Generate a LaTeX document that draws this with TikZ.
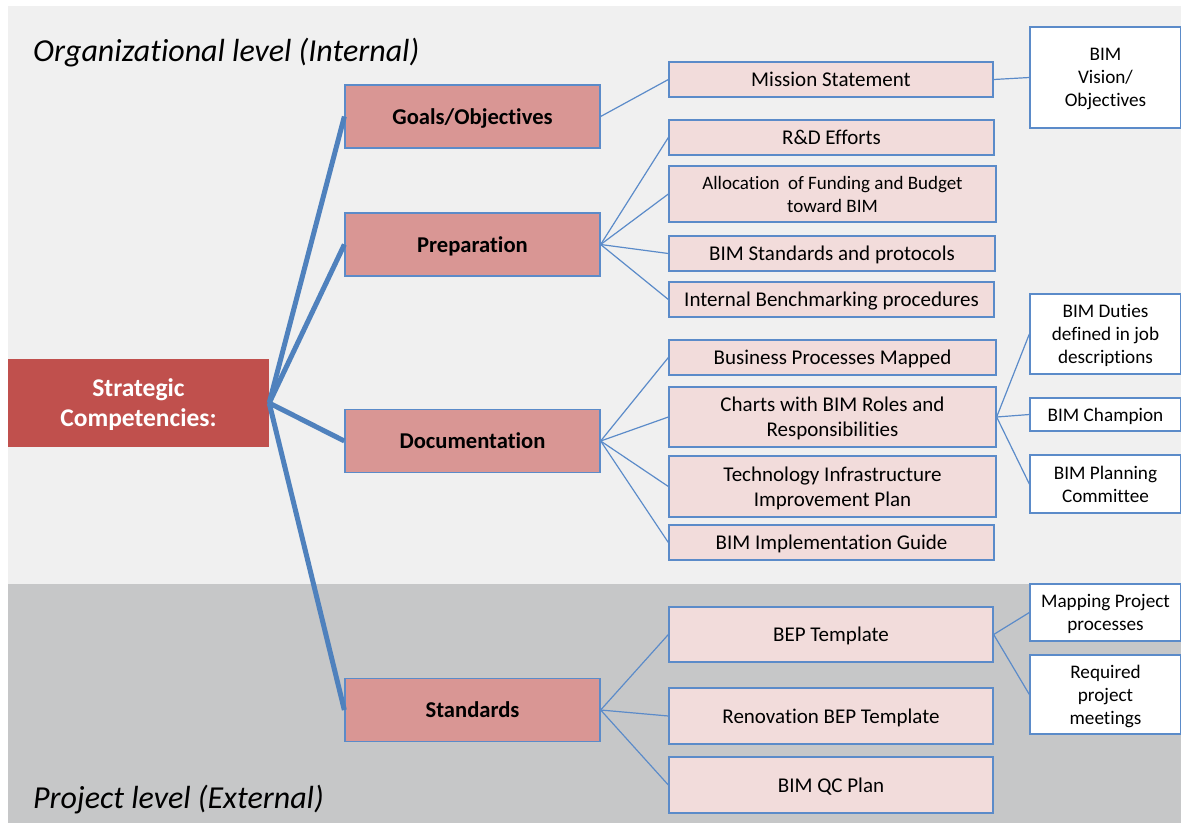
\documentclass[tikz,border=0pt]{standalone}
\usepackage{fontspec}
\setmainfont{Carlito}[Ligatures=NoCommon]
\definecolor{paneltop}{HTML}{F0F0F0}
\definecolor{panelbot}{HTML}{C6C7C8}
\definecolor{stratred}{HTML}{C0504D}
\definecolor{lvonefill}{HTML}{D99694}
\definecolor{lvtwofill}{HTML}{F2DCDB}
\definecolor{boxblue}{HTML}{5B8BC9}
\definecolor{trunkblue}{HTML}{4F81BD}
\begin{document}
\begin{tikzpicture}[x=1pt,y=-1pt,
  base/.style={draw=boxblue, line width=1.3pt, align=center, inner sep=2pt,
    text depth=0pt, text=black},
  strat/.style={fill=stratred, text=white, align=center, inner sep=0pt,
    text depth=0pt, minimum width=261pt, minimum height=88pt,
    font=\fontsize{25.5}{30}\selectfont\bfseries},
  lvone/.style={base, fill=lvonefill, minimum width=255pt, minimum height=63pt,
    font=\fontsize{22.6}{26}\selectfont\bfseries},
  lvtwo/.style={base, fill=lvtwofill, font=\fontsize{21}{25}\selectfont},
  lvtwosmall/.style={lvtwo, font=\fontsize{19}{23}\selectfont},
  lvthree/.style={base, fill=white, minimum width=151pt, font=\fontsize{19.2}{23}\selectfont},
  trunk/.style={draw=trunkblue, line width=5pt},
  twig/.style={draw=boxblue, line width=1.2pt},
  leveltitle/.style={anchor=base west, inner sep=0pt, font=\fontsize{32}{38}\selectfont\itshape},
]
\useasboundingbox (0,0) rectangle (1181,823);
\clip (0,0) rectangle (1181,823);
\fill[white] (0,0) rectangle (1181,823);

% two background bands
\fill[paneltop] (8,6) rectangle (1181,584);
\fill[panelbot] (8,584) rectangle (1181,823);

\node[leveltitle] (orgtitle) at (33,61) {Organizational level (Internal)};
\node[leveltitle] (projtitle) at (33,808) {Project level (External)};

% root
\node[strat] (root) at (138.5,403) {Strategic\\Competencies:};

% first level
\node[lvone] (goals) at (472.5,116.5) {Goals/Objectives};
\node[lvone] (prep)  at (472.5,244.5) {Preparation};
\node[lvone] (docu)  at (472.5,441)   {Documentation};
\node[lvone] (stds)  at (472.5,710)   {Standards};

% second level
\node[lvtwo, minimum width=324pt, minimum height=35pt] (mission) at (831,79.5) {Mission Statement};
\node[lvtwo, minimum width=325pt, minimum height=35pt] (rnd)     at (831.5,137.5) {R\&D Efforts};
\node[lvtwosmall, minimum width=327pt, minimum height=56pt] (alloc) at (832.5,194) {Allocation\ \ of Funding and Budget\\toward BIM};
\node[lvtwo, minimum width=326pt, minimum height=35pt] (protos)  at (832,253.5) {BIM Standards and protocols};
\node[lvtwo, minimum width=325pt, minimum height=35pt] (bench)   at (831.5,299.5) {Internal Benchmarking procedures};
\node[lvtwo, minimum width=327pt, minimum height=35pt] (busproc) at (832.5,357.5) {Business Processes Mapped};
\node[lvtwo, minimum width=327pt, minimum height=60pt] (charts)  at (832.5,417) {Charts with BIM Roles and\\Responsibilities};
\node[lvtwo, minimum width=327pt, minimum height=61pt] (techinf) at (832.5,486.5) {Technology Infrastructure\\Improvement Plan};
\node[lvtwo, minimum width=325pt, minimum height=35pt] (implg)   at (831.5,542.5) {BIM Implementation Guide};
\node[lvtwo, minimum width=324pt, minimum height=55pt] (bep)     at (831,634.5) {BEP Template};
\node[lvtwo, minimum width=324pt, minimum height=56pt] (renov)   at (831,716) {Renovation BEP Template};
\node[lvtwo, minimum width=324pt, minimum height=56pt] (qcplan)  at (831,785) {BIM QC Plan};

% third level
\node[lvthree, minimum height=101pt] (vision)   at (1105.5,77.5) {BIM\\Vision/\\Objectives};
\node[lvthree, minimum height=80pt]  (duties)   at (1105.5,334) {BIM Duties\\defined in job\\descriptions};
\node[lvthree, minimum height=33pt]  (champion) at (1105.5,414.5) {BIM Champion};
\node[lvthree, minimum height=58pt]  (planning) at (1105.5,484) {BIM Planning\\Committee};
\node[lvthree, minimum height=57pt]  (mapping)  at (1105.5,612.5) {Mapping Project\\processes};
\node[lvthree, minimum height=79pt]  (meetings) at (1105.5,694.5) {Required\\project\\meetings};

% trunk connectors from the root
\foreach \t in {goals,prep,docu,stds}
  \draw[trunk] (root.east) -- (\t.west);

% branches to second level
\draw[twig] (goals.east) -- (mission.west);
\foreach \t in {rnd,alloc,protos,bench}
  \draw[twig] (prep.east) -- (\t.west);
\foreach \t in {busproc,charts,techinf,implg}
  \draw[twig] (docu.east) -- (\t.west);
\foreach \t in {bep,renov,qcplan}
  \draw[twig] (stds.east) -- (\t.west);

% branches to third level
\draw[twig] (mission.east) -- (vision.west);
\foreach \t in {duties,champion,planning}
  \draw[twig] (charts.east) -- (\t.west);
\foreach \t in {mapping,meetings}
  \draw[twig] (bep.east) -- (\t.west);
\end{tikzpicture}
\end{document}
